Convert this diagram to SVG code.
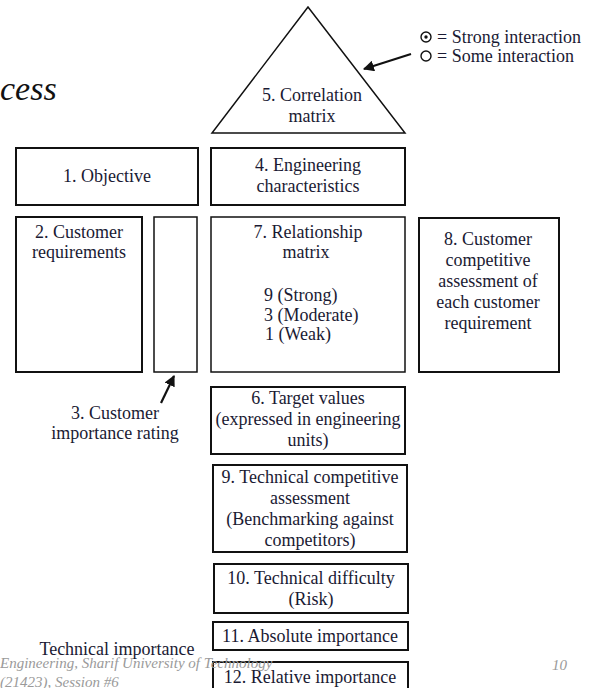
<svg xmlns="http://www.w3.org/2000/svg" width="593" height="688" viewBox="0 0 593 688">
<style>
.b{fill:#fff;stroke:#111;stroke-width:2}
.t{stroke-width:1.5}
text{font-size:18px;fill:#1a1a33}
.c{text-anchor:middle}
.f{fill:#9a9a9a;font-style:italic;font-size:15px}
.a{stroke:#111;stroke-width:2.2;fill:none;marker-end:url(#ah)}
</style>
<defs>
<marker id="ah" viewBox="0 0 10 10" refX="9" refY="5" markerWidth="5" markerHeight="5" orient="auto" markerUnits="strokeWidth">
<path d="M0,0 L10,5 L0,10 Z" fill="#111"/>
</marker>
</defs>
<rect width="593" height="688" fill="#fff"/>
<g font-family="'Liberation Serif', 'Times New Roman', 'DejaVu Serif', serif">
<text x="0" y="100" style="font-size:34px;font-style:italic;fill:#111">cess</text>
<g id="n5">
<polygon class="b t" points="308,7 212,133 405,133"/>
<text class="c" x="312" y="101">5. Correlation</text>
<text class="c" x="312" y="122">matrix</text>
</g>
<g id="legend">
<circle cx="426" cy="37" r="5" fill="none" stroke="#111" stroke-width="1.4"/>
<circle cx="426" cy="37" r="1.7" fill="#111"/>
<text x="437" y="43">= Strong interaction</text>
<circle cx="426" cy="56" r="5" fill="none" stroke="#111" stroke-width="1.4"/>
<text x="437" y="62">= Some interaction</text>
</g>
<g id="n1">
<rect class="b" x="16" y="148" width="182" height="57"/>
<text class="c" x="107" y="182">1. Objective</text>
</g>
<g id="n4">
<rect class="b" x="211" y="148" width="194" height="57"/>
<text class="c" x="308" y="171">4. Engineering</text>
<text class="c" x="308" y="192">characteristics</text>
</g>
<g id="n2">
<rect class="b" x="16" y="217" width="126" height="155"/>
<text class="c" x="79" y="238">2. Customer</text>
<text class="c" x="79" y="258">requirements</text>
</g>
<g id="n3">
<rect class="b t" x="154" y="217" width="43" height="155"/>
<text class="c" x="115" y="419">3. Customer</text>
<text class="c" x="115" y="439">importance rating</text>
</g>
<g id="n7">
<rect class="b t" x="211" y="217" width="194" height="155"/>
<text class="c" x="308" y="238">7.  Relationship</text>
<text class="c" x="306" y="258">matrix</text>
<text x="264" y="301">9 (Strong)</text>
<text x="264" y="321">3 (Moderate)</text>
<text x="265" y="340">1 (Weak)</text>
</g>
<g id="n8">
<rect class="b" x="419" y="218" width="140" height="154"/>
<text class="c" x="488" y="245">8. Customer</text>
<text class="c" x="488" y="266">competitive</text>
<text class="c" x="488" y="287">assessment of</text>
<text class="c" x="488" y="308">each customer</text>
<text class="c" x="488" y="329">requirement</text>
</g>
<g id="n6">
<rect class="b" x="211" y="387" width="194" height="67"/>
<text class="c" x="308" y="404">6. Target values</text>
<text class="c" x="308" y="425">(expressed in engineering</text>
<text class="c" x="308" y="446">units)</text>
</g>
<g id="n9">
<rect class="b" x="213" y="465" width="194" height="87"/>
<text class="c" x="310" y="483">9. Technical competitive</text>
<text class="c" x="310" y="504">assessment</text>
<text class="c" x="310" y="525">(Benchmarking against</text>
<text class="c" x="310" y="546">competitors)</text>
</g>
<g id="n10">
<rect class="b" x="214" y="564" width="194" height="49"/>
<text class="c" x="311" y="584">10. Technical difficulty</text>
<text class="c" x="311" y="605">(Risk)</text>
</g>
<g id="n11">
<rect class="b" x="213" y="622" width="195" height="28"/>
<text class="c" x="310" y="642">11. Absolute importance</text>
</g>
<g id="n12">
<rect class="b" x="213" y="662" width="195" height="30"/>
<text class="c" x="310" y="683">12.  Relative importance</text>
</g>
<text class="c" x="117" y="655">Technical importance</text>
<g id="footer">
<text class="f" x="0" y="668">Engineering, Sharif University of Technology</text>
<text class="f" x="0" y="687">(21423), Session #6</text>
<text class="f" x="552" y="670">10</text>
</g>
</g>
<g id="connectors">
<line class="a" x1="411" y1="54" x2="364" y2="69"/>
<line class="a" x1="161" y1="403" x2="174" y2="376"/>
</g>
</svg>
